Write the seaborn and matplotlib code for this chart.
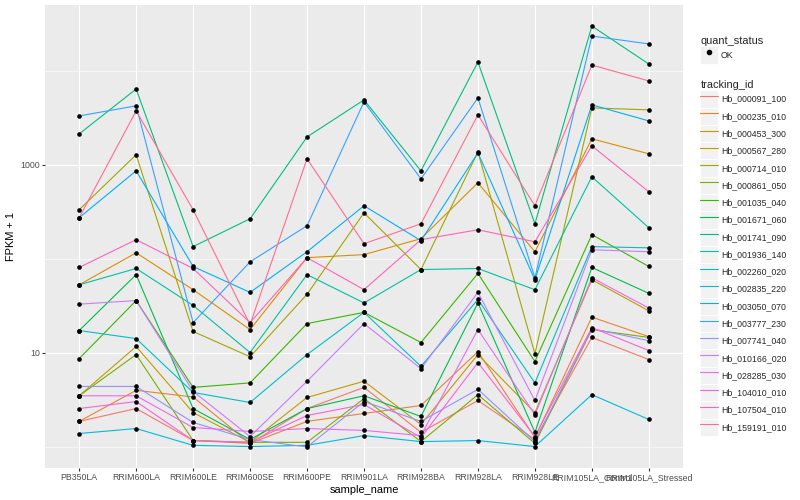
import numpy as np
import pandas as pd
import seaborn as sns
import matplotlib.pyplot as plt
from matplotlib.lines import Line2D
from matplotlib.patches import Rectangle
from matplotlib.legend_handler import HandlerLine2D
from matplotlib.ticker import FixedLocator, NullFormatter

# sample order on the x axis
samples = ['PB350LA', 'RRIM600LA', 'RRIM600LE', 'RRIM600SE', 'RRIM600PE',
           'RRIM901LA', 'RRIM928BA', 'RRIM928LA', 'RRIM928LE',
           'RRIM105LA_Control', 'RRIM105LA_Stressed']

tracking_ids = ['Hb_000091_100', 'Hb_000235_010', 'Hb_000453_300', 'Hb_000567_280',
                'Hb_000714_010', 'Hb_000861_050', 'Hb_001035_040', 'Hb_001671_060',
                'Hb_001741_090', 'Hb_001936_140', 'Hb_002260_020', 'Hb_002835_220',
                'Hb_003050_070', 'Hb_003777_230', 'Hb_007741_040', 'Hb_010166_020',
                'Hb_028285_030', 'Hb_104010_010', 'Hb_107504_010', 'Hb_159191_010']

# FPKM + 1 (one list per gene, in sample order)
hb_000091_100 = [1.87, 2.56, 1.17, 1.09, 2.56, 4.3, 1.43, 3.12, 1.20, 14.6, 8.5]
hb_000235_010 = [1.87, 4.0, 3.4, 1.09, 1.87, 2.27, 2.76, 10.3, 1.26, 24, 14.9]
hb_000453_300 = [53, 116, 47, 17.7, 103, 111, 164, 644, 119, 1890, 1310]
hb_000567_280 = [3.5, 11.7, 2.32, 1.12, 3.36, 5.0, 1.73, 9.6, 2.32, 60, 28]
hb_000714_010 = [333, 1280, 16.9, 9.1, 42, 309, 77, 1370, 9.8, 4030, 3840]
hb_000861_050 = [3.5, 9.6, 1.17, 1.12, 1.12, 3.27, 1.14, 3.6, 1.09, 17.7, 14.6]
hb_001035_040 = [8.7, 36, 4.3, 4.8, 20.5, 27, 12.9, 70, 8.1, 181, 83]
hb_001671_060 = [17.3, 68, 2.56, 1.20, 2.56, 3.5, 2.11, 34, 1.43, 81, 43]
hb_001741_090 = [2130, 6400, 135, 267, 1980, 4900, 863, 12400, 236, 29900, 11800]
hb_001936_140 = [53, 79, 32, 10.1, 68, 34, 77, 79, 47, 746, 214]
hb_002260_020 = [17.3, 14.2, 3.8, 2.97, 9.6, 27, 7.2, 37, 4.8, 135, 131]
hb_002835_220 = [1.39, 1.57, 1.04, 1.01, 1.04, 1.32, 1.14, 1.17, 1.01, 3.6, 1.96]
hb_003050_070 = [274, 863, 83, 44, 119, 367, 156, 1340, 60, 4340, 2930]
hb_003777_230 = [3310, 4240, 21, 93, 225, 4670, 710, 5150, 63, 23400, 19300]
hb_007741_040 = [4.4, 4.4, 1.82, 1.20, 1.0, 3.04, 1.87, 4.1, 1.14, 18.1, 13.5]
hb_010166_020 = [33, 36, 3.9, 1.29, 5.0, 20.5, 6.8, 44, 3.12, 125, 119]
hb_028285_030 = [3.5, 3.5, 1.61, 1.46, 1.57, 1.50, 1.32, 17.7, 2.21, 63, 30]
hb_104010_010 = [2.56, 3.04, 1.17, 1.12, 2.16, 2.83, 1.26, 7.9, 1.29, 18.6, 10.6]
hb_107504_010 = [81, 160, 79, 21, 103, 47, 160, 204, 152, 1590, 517]
hb_159191_010 = [274, 3740, 333, 20, 1160, 145, 236, 3400, 367, 11500, 7800]

values = [hb_000091_100, hb_000235_010, hb_000453_300, hb_000567_280, hb_000714_010,
          hb_000861_050, hb_001035_040, hb_001671_060, hb_001741_090, hb_001936_140,
          hb_002260_020, hb_002835_220, hb_003050_070, hb_003777_230, hb_007741_040,
          hb_010166_020, hb_028285_030, hb_104010_010, hb_107504_010, hb_159191_010]

# ggplot2 default hue palette for 20 levels
colors = ['#F8766D', '#EA8331', '#D89000', '#C09B00', '#A3A500', '#7CAE00', '#39B600',
          '#00BB4E', '#00BF7D', '#00C1A3', '#00BFC4', '#00BAE0', '#00B0F6', '#35A2FF',
          '#9590FF', '#C77CFF', '#E76BF3', '#FA62DB', '#FF62BC', '#FF6C91']

rows = []
for tid, vals in zip(tracking_ids, values):
    for s, v in zip(samples, vals):
        rows.append({'tracking_id': tid, 'sample_name': s, 'fpkm': v, 'quant_status': 'OK'})
df = pd.DataFrame(rows)


class KeyHandler(HandlerLine2D):
    # ggplot-like legend key: grey square behind the glyph
    def create_artists(self, legend, orig_handle, xdescent, ydescent,
                       width, height, fontsize, trans):
        bg = Rectangle((-xdescent, -ydescent), width, height, facecolor='#F2F2F2',
                       edgecolor='white', linewidth=0.6, transform=trans)
        arts = super().create_artists(legend, orig_handle, xdescent, ydescent,
                                      width, height, fontsize, trans)
        return [bg] + arts


sns.set_theme(style='darkgrid')
plt.rcParams['font.family'] = ['Liberation Sans', 'DejaVu Sans']

fig = plt.figure(figsize=(8, 5), dpi=100)
ax = fig.add_axes([45 / 800, 32 / 500, 638 / 800, 463 / 500])
ax.set_facecolor('#EBEBEB')

sns.lineplot(data=df, x='sample_name', y='fpkm', hue='tracking_id',
             hue_order=tracking_ids, palette=colors, sort=False,
             estimator=None, errorbar=None, linewidth=0.8, legend=False, ax=ax)
sns.scatterplot(data=df, x='sample_name', y='fpkm', color='black', s=11,
                linewidth=0, legend=False, ax=ax, zorder=5)

ax.set_yscale('log')
lo, hi = np.log10(df.fpkm.min()), np.log10(df.fpkm.max())
pad = 0.05 * (hi - lo)
ax.set_ylim(10 ** (lo - pad), 10 ** (hi + pad))
ax.set_xlim(-0.6, len(samples) - 0.4)

ax.yaxis.set_major_locator(FixedLocator([10, 1000]))
ax.set_yticklabels(['10', '1000'])
ax.yaxis.set_minor_locator(FixedLocator([1, 100, 10000]))
ax.yaxis.set_minor_formatter(NullFormatter())

ax.grid(which='major', color='white', linewidth=0.8)
ax.grid(which='minor', axis='y', color='white', linewidth=0.4)
ax.set_axisbelow(True)
for sp in ax.spines.values():
    sp.set_visible(False)

ax.tick_params(axis='both', which='major', length=2, width=0.8, color='#333333',
               labelcolor='#4D4D4D', labelsize=6.3, pad=1.5, bottom=True, left=True)
ax.tick_params(axis='y', which='minor', length=0)

ax.set_xlabel('sample_name', fontsize=7.9, color='black', labelpad=2)
ax.set_ylabel('FPKM + 1', fontsize=7.9, color='black', labelpad=3)

# legends (key squares ~17px, stacked with no gap)
leg_kw = dict(loc='upper left', frameon=False, fontsize=6.3, title_fontsize=7.9,
              handlelength=1.98, handleheight=2.66, handletextpad=0.35,
              labelspacing=0, borderpad=0, alignment='left',
              handler_map={Line2D: KeyHandler()})

status_handle = [Line2D([], [], marker='o', color='black', linestyle='none', markersize=3.0)]
leg1 = fig.legend(status_handle, ['OK'], title='quant_status',
                  bbox_to_anchor=(696 / 800, 1 - 32 / 500), **leg_kw)

line_handles = [Line2D([], [], color=c, linewidth=0.8) for c in colors]
leg2 = fig.legend(line_handles, tracking_ids, title='tracking_id',
                  bbox_to_anchor=(696 / 800, 1 - 76 / 500), **leg_kw)

fig.savefig('out.png', dpi=100, facecolor='white')
